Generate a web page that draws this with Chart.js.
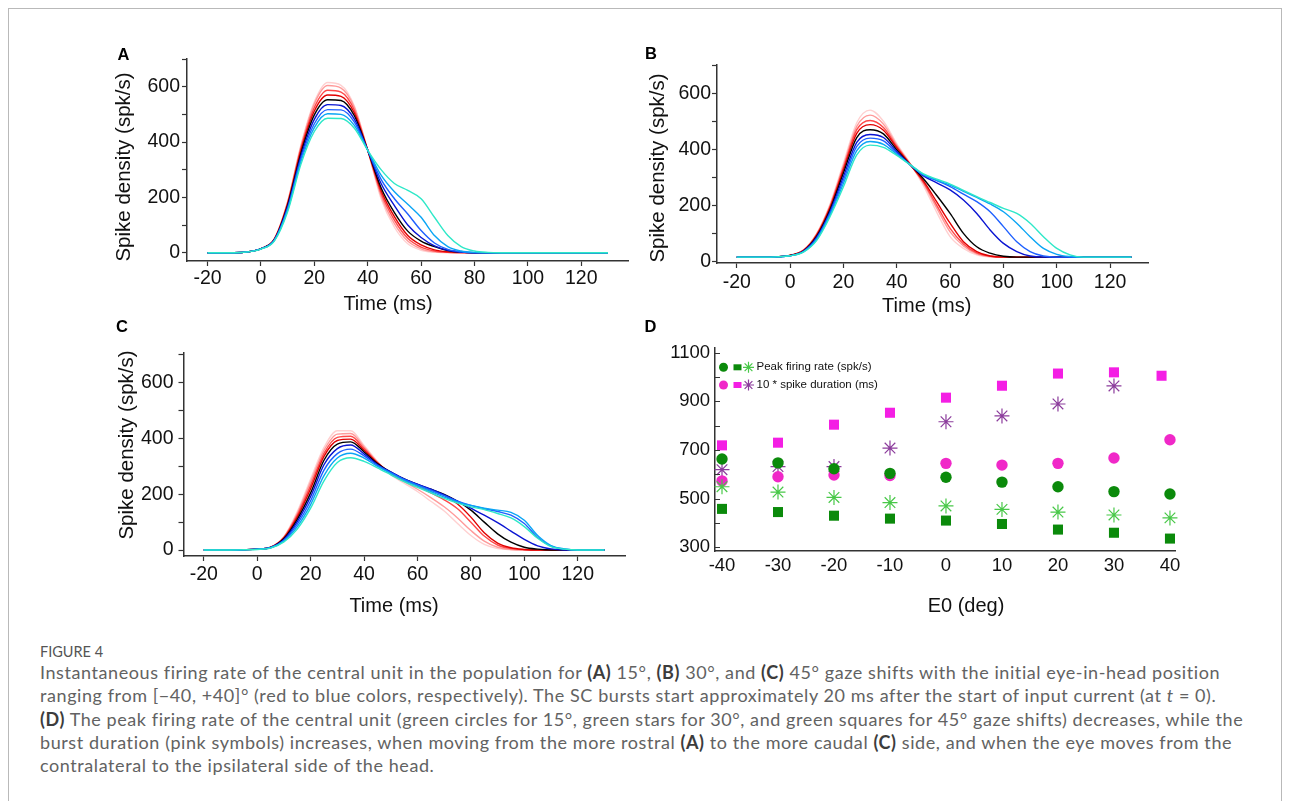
<!DOCTYPE html>
<html>
<head>
<meta charset="utf-8">
<title>Figure 4</title>
<script src="https://cdn.jsdelivr.net/npm/chart.js@4.4.1/dist/chart.umd.min.js"></script>
<style>
  html, body { margin: 0; padding: 0; background: #fff; }
  body { position: relative; width: 1293px; height: 801px; overflow: hidden; font-family: "Liberation Sans", Arial, sans-serif; }
  .frame { position: absolute; left: 8px; top: 8px; width: 1272px; height: 830px; border: 1px solid #b9b9b9; }
  canvas { position: absolute; }
  .t { position: absolute; white-space: nowrap; color: #111; transform: translate(-50%, -50%); }
  .letter { font-weight: bold; font-size: 16.5px; color: #000; }
  .axis { font-size: 20px; }
  .rot { font-size: 20.5px; transform: translate(-50%, -50%) rotate(-90deg); }
  .cap { position: absolute; left: 40px; font-family: Lato, "Open Sans", sans-serif; color: #626262; font-size: 18px; letter-spacing: 0.58px; white-space: nowrap; transform: translateY(-50%); }
  .cap b { color: #3c3c3c; }
  .fig { font-size: 14.5px; letter-spacing: 0; color: #555; }
</style>
</head>
<body>
<div class="frame"></div>
<canvas id="chartA"></canvas>
<canvas id="chartB"></canvas>
<canvas id="chartC"></canvas>
<canvas id="chartD"></canvas>

<div class="t letter" style="left:123.5px;top:53.5px">A</div>
<div class="t letter" style="left:651px;top:53px">B</div>
<div class="t letter" style="left:122px;top:326px">C</div>
<div class="t letter" style="left:650.5px;top:326px">D</div>

<div class="t axis rot" style="left:122.7px;top:167px">Spike density (spk/s)</div>
<div class="t axis" style="left:388px;top:303px">Time (ms)</div>
<div class="t axis rot" style="left:656.7px;top:168px">Spike density (spk/s)</div>
<div class="t axis" style="left:926.7px;top:305px">Time (ms)</div>
<div class="t axis rot" style="left:126px;top:445px">Spike density (spk/s)</div>
<div class="t axis" style="left:394px;top:605px">Time (ms)</div>
<div class="t axis" style="left:966px;top:605px">E0 (deg)</div>

<div class="cap fig" style="top:651px">FIGURE 4</div>
<div class="cap" style="top:672px">Instantaneous firing rate of the central unit in the population for <b>(A)</b> 15°, <b>(B)</b> 30°, and <b>(C)</b> 45° gaze shifts with the initial eye-in-head position</div>
<div class="cap" style="top:695.3px">ranging from [−40, +40]° (red to blue colors, respectively). The SC bursts start approximately 20 ms after the start of input current (at <i>t</i> = 0).</div>
<div class="cap" style="top:718.6px"><b>(D)</b> The peak firing rate of the central unit (green circles for 15°, green stars for 30°, and green squares for 45° gaze shifts) decreases, while the</div>
<div class="cap" style="top:742px">burst duration (pink symbols) increases, when moving from the more rostral <b>(A)</b> to the more caudal <b>(C)</b> side, and when the eye moves from the</div>
<div class="cap" style="top:765.3px">contralateral to the ipsilateral side of the head.</div>

<script>
// initial eye-in-head position of each curve (red -> black -> blue)
const E0 = [-40, -30, -20, -10, 0, 10, 20, 30, 40];
const lineColors = ['#ffd0d0', '#ff9a9a', '#ff4848', '#e00000', '#000000', '#0a14d2', '#1e60ff', '#0aa5f5', '#2ee8c8'];

// sample times (ms)
const timeAC = [-20, -10, -5, 0, 5, 10, 15, 20, 25, 30, 35, 40, 45, 50, 55, 60, 65, 70, 75, 80, 85, 90, 95, 100, 105, 110, 115, 120, 130];
const timeB  = [-20, -10, -5, 0, 5, 10, 15, 20, 25, 30, 35, 40, 45, 50, 55, 60, 65, 70, 75, 80, 85, 90, 95, 100, 105, 110, 115, 120, 128];

// panel A, 15 deg (one row per E0)
const rateA = [
  [0,0,3,15,50,185,390,545,615,605,530,370,195,92,32,9,2,0,0,0,0,0,0,0,0,0,0,0,0],
  [0,0,3,15,50,183,385,538,604,595,525,370,205,105,42,14,3,1,0,0,0,0,0,0,0,0,0,0,0],
  [0,0,3,15,49,180,378,525,587,580,515,370,215,118,52,20,6,1,0,0,0,0,0,0,0,0,0,0,0],
  [0,0,3,15,48,176,370,512,570,565,505,370,225,130,62,28,10,3,1,0,0,0,0,0,0,0,0,0,0],
  [0,0,3,15,47,172,360,498,553,550,495,370,235,145,78,42,22,8,2,0,0,0,0,0,0,0,0,0,0],
  [0,0,3,14,46,166,350,482,535,532,483,370,250,170,100,55,25,9,2,0,0,0,0,0,0,0,0,0,0],
  [0,0,3,14,45,160,340,466,517,516,472,370,265,195,140,80,35,12,3,0,0,0,0,0,0,0,0,0,0],
  [0,0,3,14,44,154,330,452,502,500,460,370,280,220,175,128,62,22,6,1,0,0,0,0,0,0,0,0,0],
  [0,0,3,13,42,148,320,438,486,485,450,370,300,250,225,195,128,62,22,6,1,0,0,0,0,0,0,0,0]
];

// panel B, 30 deg
const rateB = [
  [15,15,16,22,40,100,205,350,495,540,500,420,350,270,175,88,46,23,16,15,15,15,15,15,15,15,15,15,15],
  [15,15,16,22,40,98,200,342,482,522,490,415,348,278,190,105,55,27,17,15,15,15,15,15,15,15,15,15,15],
  [15,15,16,21,39,96,196,334,470,503,478,410,347,282,200,118,62,30,18,15,15,15,15,15,15,15,15,15,15],
  [15,15,16,21,38,94,192,326,457,488,468,405,346,287,212,136,70,35,19,15,15,15,15,15,15,15,15,15,15],
  [15,15,16,21,37,90,185,315,442,470,455,398,345,295,235,171,100,52,29,18,15,15,15,15,15,15,15,15,15],
  [15,15,16,20,36,86,178,302,425,453,442,392,345,305,280,255,219,171,112,64,35,19,15,15,15,15,15,15,15],
  [15,15,16,20,35,82,172,290,410,440,430,387,345,308,288,267,240,213,177,124,70,35,19,15,15,15,15,15,15],
  [15,15,16,20,34,78,166,278,395,428,418,382,345,310,290,272,250,228,205,177,136,88,46,25,17,15,15,15,15],
  [15,15,16,20,33,75,160,266,380,415,407,378,345,312,293,276,253,231,210,189,171,136,88,46,23,15,15,15,15]
];

// panel C, 45 deg
const rateC = [
  [0,0,1,3,10,48,138,255,368,428,428,375,318,270,240,210,175,140,95,52,20,5,1,0,0,0,0,0,0],
  [0,0,1,3,10,47,132,245,358,416,418,370,316,272,245,218,188,155,115,70,32,10,2,0,0,0,0,0,0],
  [0,0,1,3,10,45,125,232,347,404,408,364,314,275,250,228,205,180,148,100,50,18,5,1,0,0,0,0,0],
  [0,0,1,3,9,43,118,220,336,393,398,358,312,277,253,232,215,197,165,118,62,25,8,2,0,0,0,0,0],
  [0,0,1,3,9,41,110,205,322,380,388,352,310,280,255,235,218,200,175,143,100,58,28,10,3,0,0,0,0],
  [0,0,1,3,9,38,102,192,306,364,377,345,307,280,255,236,218,198,175,150,125,98,68,38,15,4,0,0,0],
  [0,0,1,3,8,35,93,177,287,346,362,338,304,278,253,234,215,195,175,160,148,138,125,95,45,14,3,0,0],
  [0,0,1,3,8,32,84,163,267,330,347,330,300,275,250,230,210,190,172,160,150,143,135,107,52,16,4,0,0],
  [0,0,1,2,7,29,75,150,248,314,331,318,295,270,245,225,205,185,168,155,145,131,115,84,42,12,3,0,0]
];

// panel D
const peak15 = [663, 647, 623, 604, 588, 568, 549, 529, 519];
const peak30 = [549, 527, 505, 484, 470, 456, 445, 433, 421];
const peak45 = [458, 445, 430, 418, 410, 396, 373, 360, 336];
const dur15  = [573, 590, 597, 595, 645, 638, 645, 667, 742];
const dur30  = [619, 632, 632, 708, 816, 840, 889, 963, null];
const dur45  = [719, 730, 804, 853, 915, 964, 1014, 1019, 1005];
const dur45E0 = [-40, -30, -20, -10, 0, 10, 20, 30, 38.5];

// ticks
const timeTicks = [-20, 0, 20, 40, 60, 80, 100, 120];
const rateTicks = [0, 100, 200, 300, 400, 500, 600, 700];
const rateLabels = [0, 200, 400, 600];
const valueTicks = [300, 400, 500, 600, 700, 800, 900, 1000, 1100];
const valueLabels = [300, 500, 700, 900, 1100];

const axisColor = '#333';
const green = '#0b8a0b', lightGreen = '#48c848', pinkCircle = '#f028c8', pinkSquare = '#f41ee4', purple = '#8c3c9c';

const panels = {
  A: { box: { left: 90, top: 30, w: 560, h: 300 }, area: { left: 187, top: 59, right: 628, bottom: 261 }, x: [-27.7, 137.5], y: [-30, 700], xPad: 1, yPad: 2, font: 19.5 },
  B: { box: { left: 640, top: 40, w: 530, h: 290 }, area: { left: 717, top: 65, right: 1148, bottom: 263 }, x: [-27.4, 134.2], y: [-6, 701], xPad: 3, yPad: 1, font: 19.5 },
  C: { box: { left: 90, top: 330, w: 560, h: 290 }, area: { left: 183.5, top: 353, right: 625, bottom: 556 }, x: [-27.6, 137.7], y: [-21.5, 707], xPad: 1.5, yPad: 5, font: 19.5 },
  D: { box: { left: 630, top: 320, w: 570, h: 300 }, area: { left: 715, top: 348, right: 1175, bottom: 551 }, x: [-41.25, 40.9], y: [285, 1119], xPad: 4, yPad: 5, font: 18.5 }
};

function setupCanvas(id, p) {
  const cv = document.getElementById(id);
  cv.width = p.box.w;
  cv.height = p.box.h;
  cv.style.left = p.box.left + 'px';
  cv.style.top = p.box.top + 'px';
  return cv;
}

function buildScales(p, xTicks, yTicks, yLabels, drawTicks) {
  const font = { family: '"Liberation Sans", Arial, sans-serif', size: p.font };
  return {
    x: {
      type: 'linear', min: p.x[0], max: p.x[1],
      afterFit: s => { s.height = p.box.top + p.box.h - p.area.bottom; },
      afterBuildTicks: s => { s.ticks = xTicks.map(v => ({ value: v })); },
      grid: { drawOnChartArea: false, drawTicks: drawTicks, tickLength: 5, tickColor: axisColor, tickWidth: 1.2 },
      border: { color: axisColor, width: 1.5 },
      ticks: { color: '#111', font: font, padding: p.xPad, maxRotation: 0, autoSkip: false, callback: v => String(v) }
    },
    y: {
      type: 'linear', min: p.y[0], max: p.y[1],
      afterFit: s => { s.width = p.area.left - p.box.left; },
      afterBuildTicks: s => { s.ticks = yTicks.map(v => ({ value: v })); },
      grid: { drawOnChartArea: false, drawTicks: drawTicks, tickLength: 5, tickColor: axisColor, tickWidth: 1.2 },
      border: { color: axisColor, width: 1.5 },
      ticks: { color: '#111', font: font, padding: p.yPad, autoSkip: false, callback: v => yLabels.includes(v) ? String(v) : '' }
    }
  };
}

function layoutFor(p) {
  return { padding: { top: p.area.top - p.box.top, right: p.box.left + p.box.w - p.area.right, left: 0, bottom: 0 } };
}

function curvePanel(id, p, times, rows) {
  const cv = setupCanvas(id, p);
  new Chart(cv, {
    type: 'line',
    data: {
      datasets: rows.map((row, i) => ({
        label: 'E0 ' + E0[i],
        data: times.map((t, j) => ({ x: t, y: row[j] })),
        borderColor: lineColors[i],
        borderWidth: 1.4,
        pointRadius: 0,
        fill: false,
        cubicInterpolationMode: 'monotone',
        order: 9 - i
      }))
    },
    options: {
      responsive: false, animation: false, events: [],
      layout: layoutFor(p),
      plugins: { legend: { display: false }, tooltip: { enabled: false } },
      scales: buildScales(p, timeTicks, rateTicks, rateLabels, true)
    }
  });
}

curvePanel('chartA', panels.A, timeAC, rateA);
curvePanel('chartB', panels.B, timeB, rateB);
curvePanel('chartC', panels.C, timeAC, rateC);

// panel D: y ticks point inward
const inwardTicks = {
  id: 'inwardTicks',
  afterDraw(chart) {
    const { ctx, chartArea, scales } = chart;
    ctx.save();
    ctx.strokeStyle = axisColor;
    ctx.lineWidth = 1;
    scales.y.ticks.forEach(t => {
      const py = Math.round(scales.y.getPixelForValue(t.value)) + 0.5;
      ctx.beginPath();
      ctx.moveTo(chartArea.left, py);
      ctx.lineTo(chartArea.left + 5, py);
      ctx.stroke();
    });
    ctx.restore();
  }
};

// the two-row symbol legend in the top-left corner of D
const legendRows = [
  { y: 47.3, marks: [['circle', green], ['rect', green], ['star', lightGreen]], text: 'Peak firing rate (spk/s)' },
  { y: 65, marks: [['circle', pinkCircle], ['rect', pinkSquare], ['star', purple]], text: '10 * spike duration (ms)' }
];
const symbolLegend = {
  id: 'symbolLegend',
  afterDraw(chart) {
    const ctx = chart.ctx;
    const xs = [93.5, 107.5, 118.5];
    ctx.save();
    legendRows.forEach(row => {
      row.marks.forEach(([shape, color], k) => {
        const x = xs[k], y = row.y;
        ctx.fillStyle = color;
        ctx.strokeStyle = color;
        ctx.lineWidth = 1.2;
        if (shape === 'circle') {
          ctx.beginPath(); ctx.arc(x, y, 4.5, 0, Math.PI * 2); ctx.fill();
        } else if (shape === 'rect') {
          ctx.fillRect(x - 4, y - 3, 8, 6);
        } else {
          ctx.beginPath();
          for (let a = 0; a < 4; a++) {
            const ang = a * Math.PI / 4;
            ctx.moveTo(x - 5.5 * Math.cos(ang), y - 5.5 * Math.sin(ang));
            ctx.lineTo(x + 5.5 * Math.cos(ang), y + 5.5 * Math.sin(ang));
          }
          ctx.stroke();
        }
      });
      ctx.fillStyle = '#111';
      ctx.font = '11.5px "Liberation Sans", Arial, sans-serif';
      ctx.textBaseline = 'middle';
      ctx.fillText(row.text, 126.5, row.y);
    });
    ctx.restore();
  }
};

function pts(xs, ys) { return xs.map((x, i) => ({ x: x, y: ys[i] })); }

(function () {
  const p = panels.D;
  const cv = setupCanvas('chartD', p);
  const dot = (label, xs, ys, style, color, r) => ({
    label, data: pts(xs, ys), pointStyle: style, pointRadius: r,
    backgroundColor: color, borderColor: color, borderWidth: style === 'star' ? 1.2 : 0, clip: false
  });
  new Chart(cv, {
    type: 'scatter',
    data: {
      datasets: [
        dot('Peak 15', E0, peak15, 'circle', green, 5.7),
        dot('Peak 45', E0, peak45, 'rect', green, 7.1),
        dot('Peak 30', E0, peak30, 'star', lightGreen, 7.5),
        dot('Dur 15', E0, dur15, 'circle', pinkCircle, 5.7),
        dot('Dur 45', dur45E0, dur45, 'rect', pinkSquare, 7.1),
        dot('Dur 30', E0, dur30, 'star', purple, 7.5)
      ]
    },
    options: {
      responsive: false, animation: false, events: [],
      layout: layoutFor(p),
      plugins: { legend: { display: false }, tooltip: { enabled: false } },
      scales: buildScales(p, E0, valueTicks, valueLabels, false)
    },
    plugins: [inwardTicks, symbolLegend]
  });
})();
</script>
</body>
</html>
